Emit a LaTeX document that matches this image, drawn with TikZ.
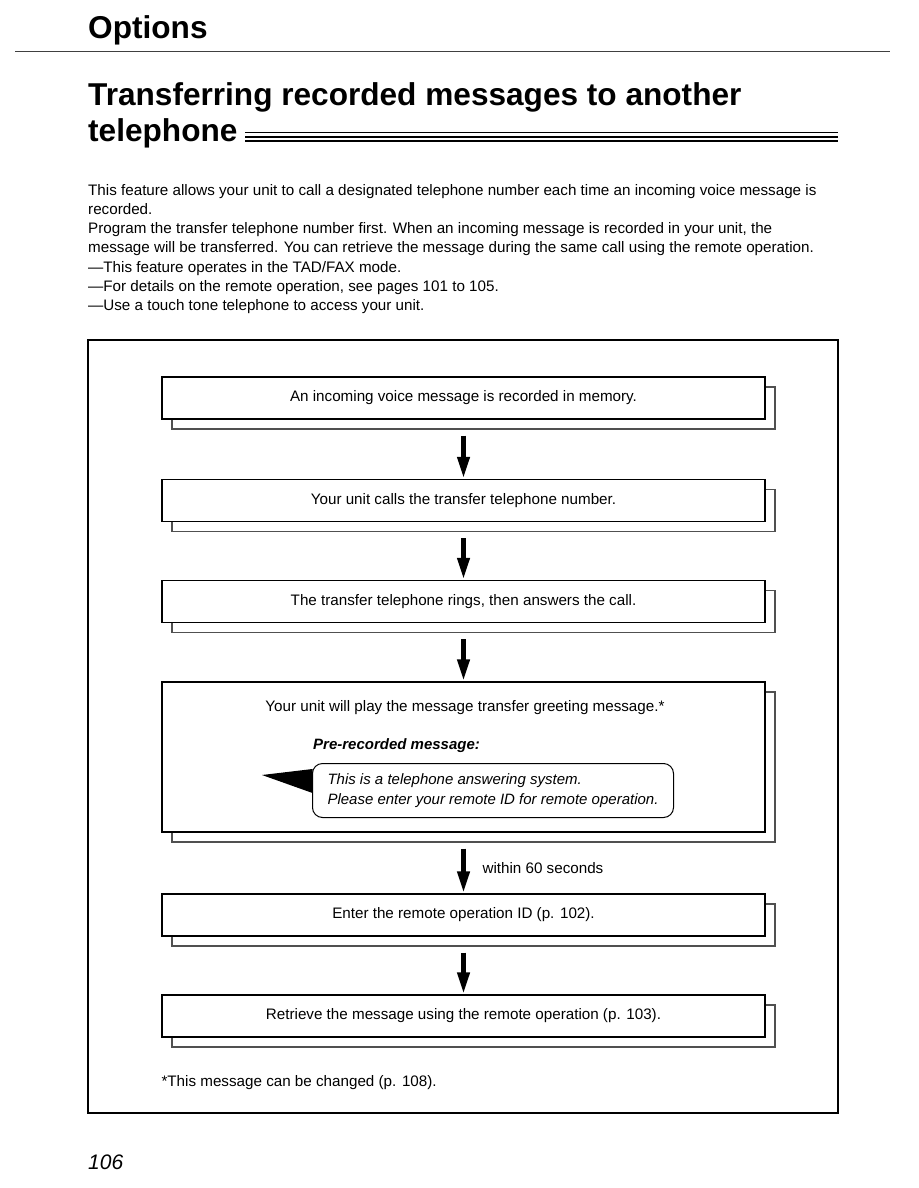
\documentclass[tikz,border=0pt]{standalone}
\usepackage{fontspec}
\setmainfont{Liberation Sans}
\usetikzlibrary{positioning,calc,arrows.meta,shadows}
\definecolor{inkgray}{HTML}{505050}

\begin{document}
\begin{tikzpicture}[x=1pt,y=-1pt,
  stepbox/.style={draw=black, line width=1.2pt, fill=white, minimum width=603pt, minimum height=42pt, inner sep=0pt,
    font=\fontsize{15.2}{18}\selectfont,
    copy shadow={shadow xshift=10pt, shadow yshift=-10pt, draw=inkgray, line width=1.4pt, fill=white}},
  flowarrow/.style={line width=4.2pt, -{Triangle[width=12pt,length=21pt]}, shorten <=16pt, shorten >=1pt},
  bodytext/.style={font=\fontsize{15.2}{19.2}\selectfont, inner sep=0pt},
  bubble/.style={draw, line width=1pt, rounded corners=10pt, minimum width=361pt, inner xsep=0pt, inner ysep=0pt,
    minimum height=54pt, align=left, font=\fontsize{15}{20}\selectfont\itshape},
]
\useasboundingbox[fill=white] (0,0) rectangle (918,1188);

% page head
\node[anchor=base west, inner sep=0pt, font=\fontsize{31.6}{31.6}\selectfont\bfseries] (options) at (88,39) {Options};
\draw[black!75, line width=1pt] (15,52) -- (890,52);
\node[anchor=base west, inner sep=0pt, font=\fontsize{31.6}{31.6}\selectfont\bfseries] (title1) at (88,106) {Transferring recorded messages to another};
\node[anchor=base west, inner sep=0pt, font=\fontsize{31.6}{31.6}\selectfont\bfseries] (title2) at (88,142) {telephone};
\draw[line width=1pt] (245,133) -- (838,133);
\draw[line width=2pt] (245,137) -- (838,137);
\draw[line width=1.2pt] (245,141) -- (838,141);

\node[bodytext, anchor=north west, align=left] (intro) at (88,184) {%
This feature allows your unit to call a designated telephone number each time an incoming voice message is\\
recorded.\\
Program the transfer telephone number first. When an incoming message is recorded in your unit, the\\
message will be transferred. You can retrieve the message during the same call using the remote operation.\\
---This feature operates in the TAD/FAX mode.\\
---For details on the remote operation, see pages 101 to 105.\\
---Use a touch tone telephone to access your unit.};

% frame and steps
\draw[line width=1.1pt] (88,340) rectangle (838,1113);

\node[stepbox] (rec) at (463.5,398) {An incoming voice message is recorded in memory.};
\node[stepbox] (calls) at (463.5,500.5) {Your unit calls the transfer telephone number.};
\node[stepbox] (rings) at (463.5,601.5) {The transfer telephone rings, then answers the call.};
\node[stepbox, minimum height=150pt] (greet) at (463.5,757) {};
\node[stepbox] (enterid) at (463.5,915) {Enter the remote operation ID (p. 102).};
\node[stepbox] (retrieve) at (463.5,1016) {Retrieve the message using the remote operation (p. 103).};

\node[font=\fontsize{15.2}{18}\selectfont] (greettext) at (465,708) {Your unit will play the message transfer greeting message.*};
\node[anchor=base west, inner sep=0pt, font=\fontsize{15}{18}\selectfont\bfseries\itshape] (prerec) at (313,749) {Pre-recorded message:};
\node[bubble, anchor=north west] (bubble) at (312,763) {This is a telephone answering system.\\Please enter your remote ID for remote operation.};
\fill (262,775) -- (312.5,769) -- (312.5,793) -- cycle;

\foreach \a/\b in {rec/calls, calls/rings, rings/greet, greet/enterid, enterid/retrieve}
  \draw[flowarrow] (\a.south) -- (\b.north);
\node[anchor=west, font=\fontsize{15.2}{18}\selectfont] (within) at (479,868) {within 60 seconds};

\node[anchor=west, font=\fontsize{15.2}{18}\selectfont] (note) at (158,1083) {*This message can be changed (p. 108).};

\node[anchor=base west, inner sep=0pt, font=\fontsize{21}{21}\selectfont\itshape] (pagenum) at (88,1169) {106};
\end{tikzpicture}
\end{document}
